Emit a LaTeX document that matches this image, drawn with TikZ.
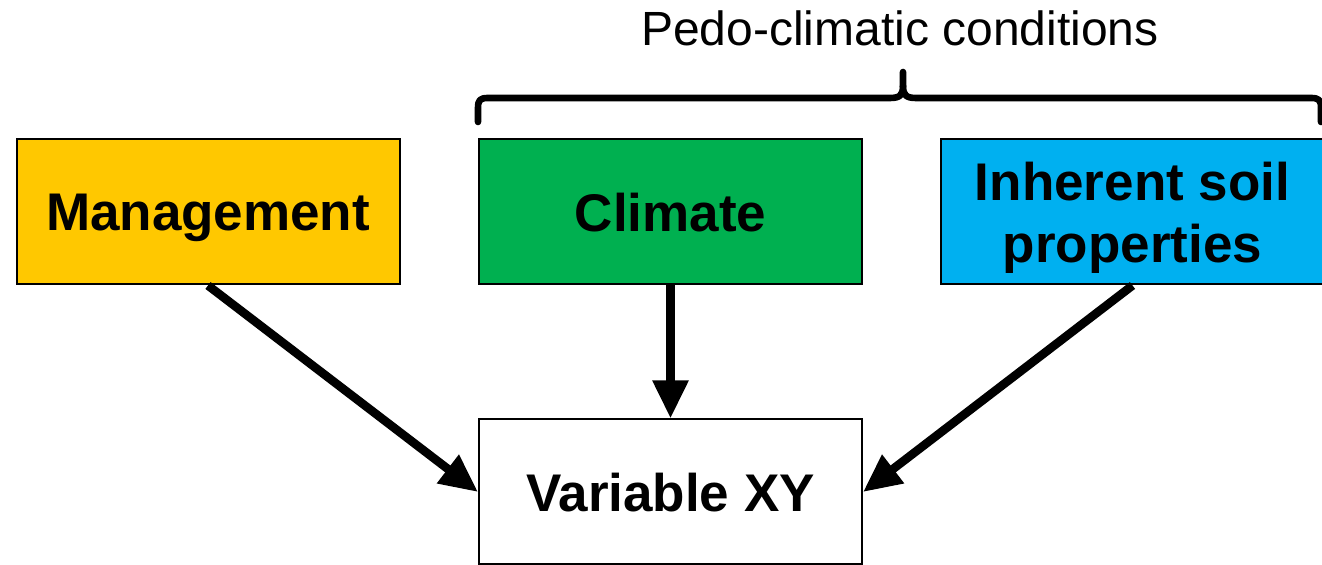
\documentclass[tikz,border=0pt]{standalone}
\usepackage{fontspec}
\setmainfont{Liberation Sans}
\usetikzlibrary{arrows.meta}
\definecolor{mgmt}{HTML}{FFC800}
\definecolor{clim}{HTML}{00B050}
\definecolor{soil}{HTML}{00B0F0}
\begin{document}
\begin{tikzpicture}[x=0.5pt,y=-0.5pt,
  box/.style={draw=black,line width=1pt,minimum width=191.5pt,minimum height=72.5pt,inner sep=0pt,align=center,text depth=0pt,font=\fontsize{26.5}{31}\selectfont\bfseries},
  conn/.style={line width=4.3pt,-{Triangle[length=19pt,width=17pt]}},
  bracepath/.style={line width=3.3pt,line cap=round,line join=round}]
\useasboundingbox (0,0) rectangle (1322,565);
\node[box,fill=mgmt] (man) at (208,212) {Management};
\node[box,fill=clim] (cli) at (670.5,212) {Climate};
\node[box,fill=soil] (inh) at (1132.5,212) {Inherent soil\\properties};
\node[box,fill=white] (var) at (670.5,492) {Variable XY};
\node[font=\fontsize{24}{28}\selectfont] (title) at (900,28) {Pedo-climatic conditions};
\coordinate (bl) at (478,122);
\coordinate (br) at (1321,122);
\coordinate (bt) at (903,72);
\draw[bracepath] (bl) -- (478,108) .. controls (478,100) and (480,98) .. (488,98) -- (890,98) .. controls (900,98) and (903,95) .. (903,86) -- (bt);
\draw[bracepath] (903,86) .. controls (903,95) and (906,98) .. (916,98) -- (1311,98) .. controls (1319,98) and (1321,100) .. (1321,108) -- (br);
\draw[conn] (man.south) -- (var.west);
\draw[conn] (cli.south) -- (var.north);
\draw[conn] (inh.south) -- (var.east);
\end{tikzpicture}
\end{document}
